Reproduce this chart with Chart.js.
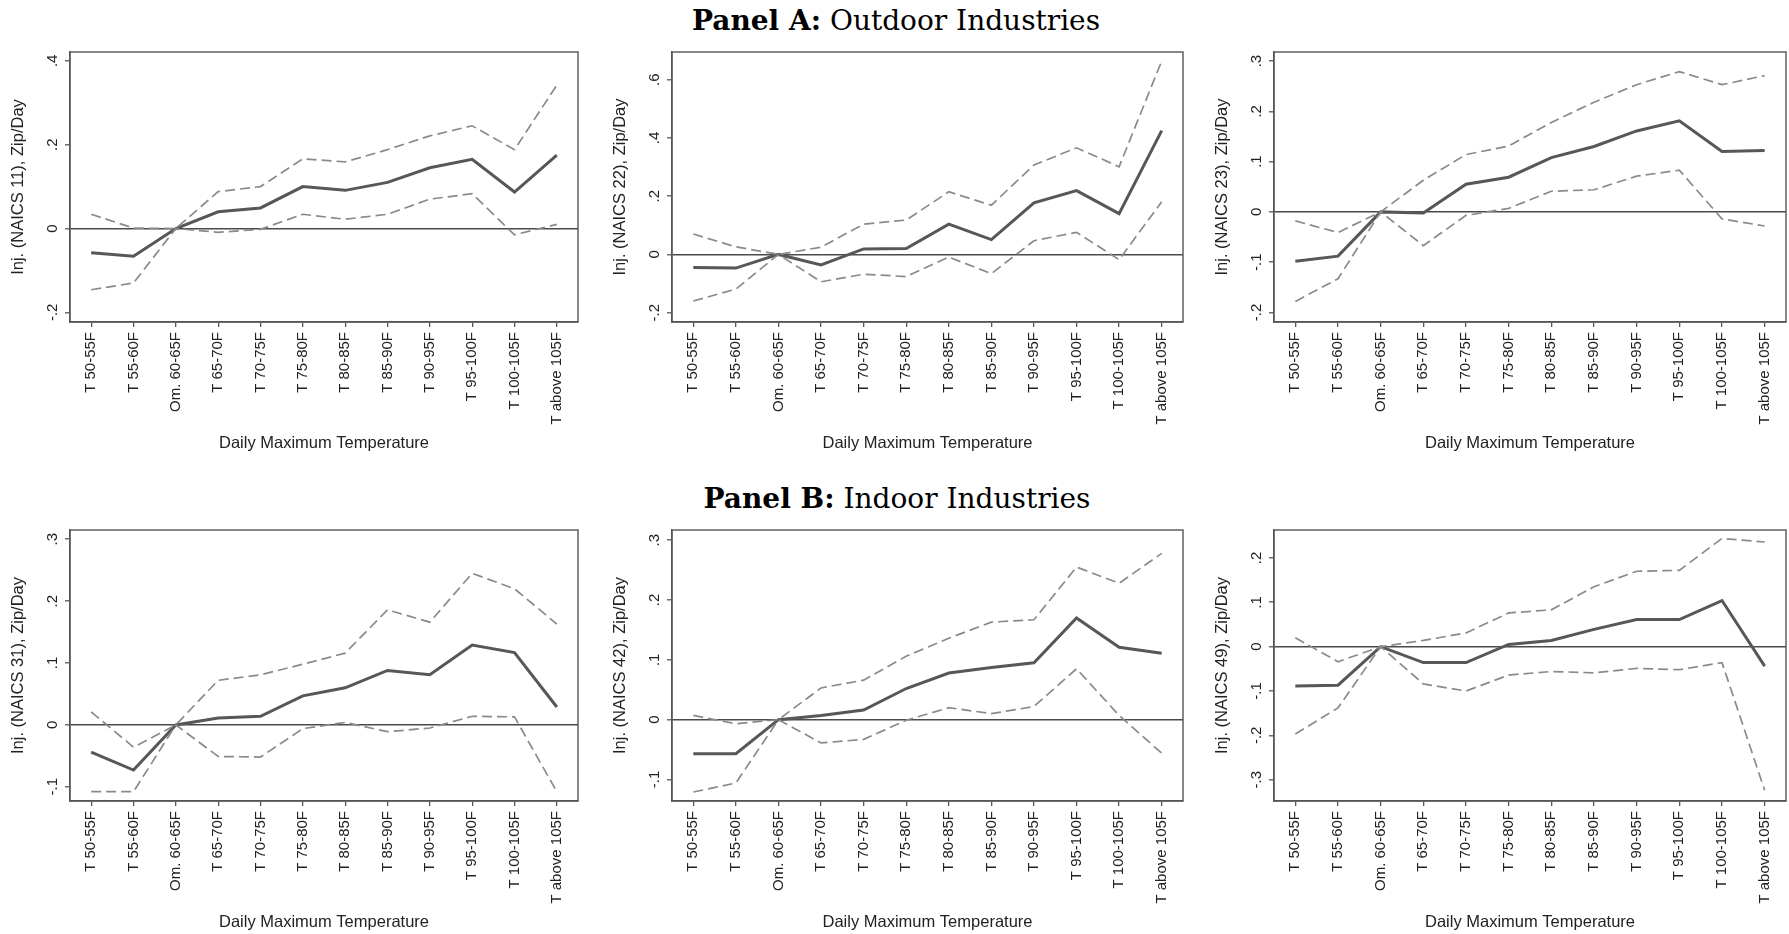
<!DOCTYPE html>
<html>
<head>
<meta charset="utf-8">
<script src="https://cdn.jsdelivr.net/npm/chart.js@4.4.1/dist/chart.umd.min.js"></script>
<style>
  body { margin: 0; background: #fff; width: 1789px; height: 934px; position: relative; overflow: hidden; }
  canvas { position: absolute; }
  .ptitle { position: absolute; font-family: "DejaVu Serif", serif; font-size: 28px; color: #000;
            transform: translate(-50%, -50%); white-space: nowrap; }
</style>
</head>
<body>
<div class="ptitle" style="left:896px; top:20px"><b>Panel A:</b> Outdoor Industries</div>
<div class="ptitle" style="left:897px; top:498px"><b>Panel B:</b> Indoor Industries</div>
<canvas id="c11"></canvas>
<canvas id="c22"></canvas>
<canvas id="c23"></canvas>
<canvas id="c31"></canvas>
<canvas id="c42"></canvas>
<canvas id="c49"></canvas>
<script>
var categories = ['T 50-55F', 'T 55-60F', 'Om. 60-65F', 'T 65-70F', 'T 70-75F', 'T 75-80F',
                  'T 80-85F', 'T 85-90F', 'T 90-95F', 'T 95-100F', 'T 100-105F', 'T above 105F'];

// Panel A
var naics11Est = [-0.058, -0.066, 0, 0.040, 0.049, 0.100, 0.091, 0.110, 0.145, 0.165, 0.087, 0.175];
var naics11Hi  = [0.034, 0.001, 0, 0.088, 0.100, 0.166, 0.159, 0.188, 0.221, 0.245, 0.188, 0.342];
var naics11Lo  = [-0.146, -0.130, 0, -0.009, -0.002, 0.034, 0.022, 0.034, 0.070, 0.083, -0.015, 0.010];

var naics22Est = [-0.045, -0.047, 0, -0.036, 0.019, 0.020, 0.104, 0.051, 0.177, 0.219, 0.140, 0.425];
var naics22Hi  = [0.070, 0.026, 0, 0.025, 0.104, 0.118, 0.215, 0.169, 0.307, 0.366, 0.301, 0.664];
var naics22Lo  = [-0.160, -0.119, 0, -0.094, -0.068, -0.076, -0.009, -0.066, 0.047, 0.076, -0.018, 0.181];

var naics23Est = [-0.098, -0.088, 0, -0.002, 0.055, 0.069, 0.108, 0.130, 0.161, 0.181, 0.120, 0.122];
var naics23Hi  = [-0.018, -0.041, 0, 0.063, 0.114, 0.131, 0.178, 0.218, 0.253, 0.279, 0.253, 0.271];
var naics23Lo  = [-0.178, -0.133, 0, -0.067, -0.007, 0.007, 0.041, 0.044, 0.071, 0.083, -0.014, -0.028];

// Panel B
var naics31Est = [-0.044, -0.073, 0, 0.011, 0.014, 0.047, 0.060, 0.088, 0.081, 0.129, 0.117, 0.029];
var naics31Hi  = [0.021, -0.036, 0, 0.072, 0.081, 0.098, 0.116, 0.186, 0.166, 0.245, 0.220, 0.163];
var naics31Lo  = [-0.108, -0.108, 0, -0.051, -0.052, -0.006, 0.004, -0.011, -0.005, 0.014, 0.013, -0.108];

var naics42Est = [-0.057, -0.057, 0, 0.007, 0.016, 0.052, 0.078, 0.087, 0.095, 0.170, 0.121, 0.111];
var naics42Hi  = [0.007, -0.007, 0, 0.053, 0.066, 0.106, 0.136, 0.163, 0.167, 0.255, 0.228, 0.278];
var naics42Lo  = [-0.121, -0.106, 0, -0.039, -0.033, -0.001, 0.020, 0.010, 0.022, 0.085, 0.007, -0.056];

var naics49Est = [-0.089, -0.087, 0, -0.036, -0.036, 0.005, 0.014, 0.039, 0.061, 0.061, 0.104, -0.044];
var naics49Hi  = [0.020, -0.034, 0, 0.014, 0.031, 0.076, 0.083, 0.135, 0.170, 0.172, 0.244, 0.236];
var naics49Lo  = [-0.197, -0.138, 0, -0.084, -0.100, -0.064, -0.056, -0.059, -0.049, -0.052, -0.036, -0.324];

// y tick labels per panel
var ticks11 = [-0.2, 0, 0.2, 0.4];
var ticks22 = [-0.2, 0, 0.2, 0.4, 0.6];
var ticks23 = [-0.2, -0.1, 0, 0.1, 0.2, 0.3];
var ticks31 = [-0.1, 0, 0.1, 0.2, 0.3];
var ticks42 = [-0.1, 0, 0.1, 0.2, 0.3];
var ticks49 = [-0.3, -0.2, -0.1, 0, 0.1, 0.2];

var AXIS_W = 70, X_AXIS_H = 131, PAD_TOP = 8;

// Stata style labels: .2, -.1, 0
function stataLabel(v) {
    if (Math.abs(v) < 1e-9) return '0';
    return v.toFixed(1).replace('0.', '.');
}

var framePlugin = {
    id: 'frame',
    afterDraw: function(chart) {
        var a = chart.chartArea, ctx = chart.ctx;
        ctx.save();
        ctx.strokeStyle = '#555';
        ctx.lineWidth = 1.4;
        ctx.strokeRect(a.left, a.top, a.right - a.left, a.bottom - a.top);
        ctx.restore();
    }
};

function makePanel(id, left, top, boxW, boxH, naics, est, hi, lo, yTicks, yMin, yMax) {
    var cv = document.getElementById(id);
    var w = AXIS_W + boxW + 4;
    var h = PAD_TOP + boxH + X_AXIS_H;
    cv.width = w; cv.height = h;
    cv.style.left = left + 'px';
    cv.style.top = top + 'px';

    var tickFont = { family: '"Liberation Sans", Arial, sans-serif', size: 15 };
    var titleFont = { family: '"Liberation Sans", Arial, sans-serif', size: 16.5 };

    new Chart(cv, {
        type: 'line',
        data: {
            labels: categories,
            datasets: [
                { data: hi, borderColor: '#8a8a8a', borderWidth: 1.7, borderDash: [10, 5], pointRadius: 0, fill: false },
                { data: lo, borderColor: '#8a8a8a', borderWidth: 1.7, borderDash: [10, 5], pointRadius: 0, fill: false },
                { data: est, borderColor: '#575757', borderWidth: 3, pointRadius: 0, fill: false }
            ]
        },
        options: {
            responsive: false,
            animation: false,
            devicePixelRatio: 1,
            layout: { padding: { top: PAD_TOP, right: 4, left: 0, bottom: 0 } },
            plugins: { legend: { display: false }, tooltip: { enabled: false } },
            scales: {
                x: {
                    type: 'category',
                    offset: true,
                    grid: { drawOnChartArea: false, drawTicks: true, tickLength: 5, color: '#555', lineWidth: 1.3 },
                    border: { display: true, color: '#555', width: 1.4 },
                    ticks: { minRotation: 90, maxRotation: 90, autoSkip: false, padding: 5, color: '#222', font: tickFont },
                    title: { display: true, text: 'Daily Maximum Temperature', color: '#222', font: titleFont, padding: 0 },
                    afterFit: function(s) { s.height = X_AXIS_H; }
                },
                y: {
                    min: yMin,
                    max: yMax,
                    grid: {
                        drawOnChartArea: true,
                        drawTicks: true,
                        tickLength: 5,
                        color: function(c) { return (c.tick && Math.abs(c.tick.value) < 1e-9) ? '#4a4a4a' : 'rgba(0,0,0,0)'; },
                        lineWidth: 1.6,
                        tickColor: '#555',
                        tickWidth: 1.3
                    },
                    border: { display: true, color: '#555', width: 1.4 },
                    ticks: { minRotation: 90, maxRotation: 90, crossAlign: 'center', padding: 3, color: '#222', font: tickFont,
                             callback: function(v) { return stataLabel(v); } },
                    afterBuildTicks: function(s) { s.ticks = yTicks.map(function(v) { return { value: v }; }); },
                    title: { display: true, text: 'Inj. (NAICS ' + naics + '), Zip/Day', color: '#222', font: titleFont,
                             padding: { top: 9, bottom: 0 } },
                    afterFit: function(s) { s.width = AXIS_W; }
                }
            }
        },
        plugins: [framePlugin]
    });
}

// top row
makePanel('c11', 0,    40,   508, 274, '11', naics11Est, naics11Hi, naics11Lo, ticks11, -0.223, 0.421);
makePanel('c22', 602,  40,   511, 274, '22', naics22Est, naics22Hi, naics22Lo, ticks22, -0.232, 0.695);
makePanel('c23', 1204, 40,   512, 274, '23', naics23Est, naics23Hi, naics23Lo, ticks23, -0.219, 0.318);
// bottom row
makePanel('c31', 0,    517.7, 508, 275, '31', naics31Est, naics31Hi, naics31Lo, ticks31, -0.123, 0.315);
makePanel('c42', 602,  517.7, 511, 275, '42', naics42Est, naics42Hi, naics42Lo, ticks42, -0.136, 0.317);
makePanel('c49', 1204, 517.7, 512, 275, '49', naics49Est, naics49Hi, naics49Lo, ticks49, -0.348, 0.263);
</script>
</body>
</html>
